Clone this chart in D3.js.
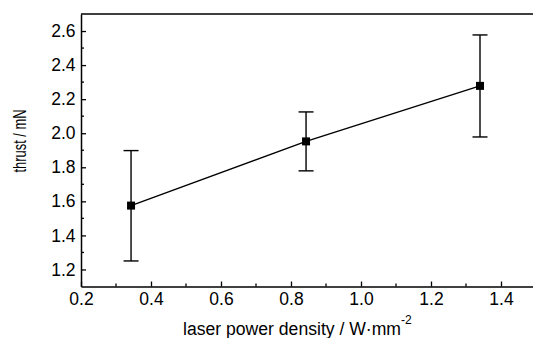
<!DOCTYPE html>
<html><head><meta charset="utf-8">
<script src="https://cdn.jsdelivr.net/npm/d3@7"></script>
<style>
html,body{margin:0;padding:0;background:#fff;overflow:hidden}
svg text{font-family:"Liberation Sans",Arial,sans-serif;fill:#000}
</style></head>
<body><svg id="c" width="533" height="338"></svg>
<script>
const powerDensity = [0.343, 0.843, 1.340];
const thrust = [1.575, 1.952, 2.278];
const errUpper = [1.898, 2.125, 2.577];
const errLower = [1.250, 1.779, 1.978];
const xTicks = [0.2, 0.4, 0.6, 0.8, 1.0, 1.2, 1.4];
const yTicks = [1.2, 1.4, 1.6, 1.8, 2.0, 2.2, 2.4, 2.6];
const xLabel = "laser power density / W·mm";
const xLabelSup = "-2";
const yLabel = "thrust / mN";

const svg = d3.select("#c");
const L = 81, R = 536, T = 14, B = 286.5;
const x = d3.scaleLinear().domain([0.2, 1.5]).range([L, R]);
const y = d3.scaleLinear().domain([1.1, 2.7]).range([B, T]);

// frame
svg.append("path").attr("d", `M${L},${T}H${R}V${B}`).attr("fill","none").attr("stroke","#000").attr("stroke-width",1.5);

// minor ticks
const xMinor = d3.range(0.3, 1.5, 0.2);
const yMinor = d3.range(1.3, 2.7, 0.2);
const xAxis = d3.axisBottom(x).tickValues(xTicks).tickSizeInner(-5).tickSizeOuter(0).tickPadding(6).tickFormat(d3.format(".1f"));
const gx = svg.append("g").attr("transform", `translate(0,${B})`).call(xAxis);
gx.selectAll(".tick line").attr("stroke-width",1.3);
gx.select(".domain").attr("stroke-width",1.5);
gx.selectAll("text").attr("font-size",17.5);
svg.append("g").attr("transform", `translate(0,${B})`).selectAll("line").data(xMinor).join("line")
  .attr("x1", d=>x(d)).attr("x2", d=>x(d)).attr("y1",0).attr("y2",-3).attr("stroke","#000").attr("stroke-width",1.3);

const yAxis = d3.axisLeft(y).tickValues(yTicks).tickSizeInner(-5).tickSizeOuter(0).tickPadding(5.5).tickFormat(d3.format(".1f"));
const gy = svg.append("g").attr("transform", `translate(${L},0)`).call(yAxis);
gy.selectAll(".tick line").attr("stroke-width",1.3);
gy.select(".domain").attr("stroke-width",1.5);
gy.selectAll("text").attr("font-size",17.5);
svg.append("g").attr("transform", `translate(${L},0)`).selectAll("line").data(yMinor).join("line")
  .attr("y1", d=>y(d)).attr("y2", d=>y(d)).attr("x1",0).attr("x2",3).attr("stroke","#000").attr("stroke-width",1.3);

// line
const pts = powerDensity.map((d,i)=>({x:d, y:thrust[i], hi:errUpper[i], lo:errLower[i]}));
svg.append("path").datum(pts).attr("fill","none").attr("stroke","#000").attr("stroke-width",1.4)
  .attr("d", d3.line().x(d=>x(d.x)).y(d=>y(d.y)));

// error bars
const eb = svg.append("g").attr("stroke","#000").attr("stroke-width",1.4);
eb.selectAll("line.v").data(pts).join("line").attr("class","v")
  .attr("x1",d=>x(d.x)).attr("x2",d=>x(d.x)).attr("y1",d=>y(d.hi)).attr("y2",d=>y(d.lo));
eb.selectAll("line.h").data(pts).join("line").attr("class","h")
  .attr("x1",d=>x(d.x)-7.5).attr("x2",d=>x(d.x)+7.5).attr("y1",d=>y(d.hi)).attr("y2",d=>y(d.hi));
eb.selectAll("line.l").data(pts).join("line").attr("class","l")
  .attr("x1",d=>x(d.x)-7.5).attr("x2",d=>x(d.x)+7.5).attr("y1",d=>y(d.lo)).attr("y2",d=>y(d.lo));

// markers
svg.append("g").selectAll("rect").data(pts).join("rect")
  .attr("x",d=>x(d.x)-4).attr("y",d=>y(d.y)-4).attr("width",8).attr("height",8).attr("fill","#000");

// labels
const xl = svg.append("text").attr("x", 183).attr("y", 334.5).attr("font-size",17.6);
xl.append("tspan").text(xLabel);
xl.append("tspan").attr("dy",-11).attr("font-size",12).text(xLabelSup);
svg.append("text").attr("transform","translate(26,141) rotate(-90)").attr("text-anchor","middle").attr("font-size",18)
  .attr("textLength",63).attr("lengthAdjust","spacingAndGlyphs").text(yLabel);
</script></body></html>
